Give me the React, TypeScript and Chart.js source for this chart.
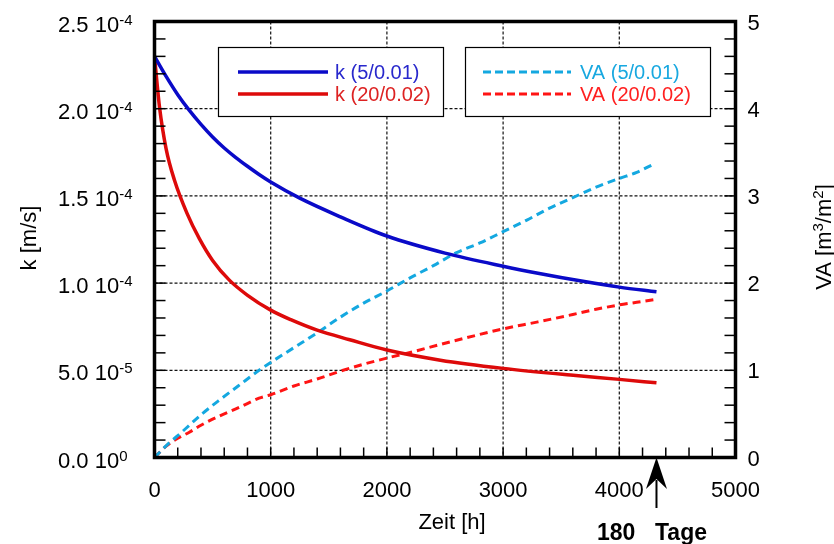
import React, { useEffect, useRef } from 'react';
import { Chart, registerables } from 'chart.js';
Chart.register(...registerables);

// ---- data ----
// k values in units of 1e-4 m/s, time in hours
const timeK5 = [0, 100, 200, 300, 400, 500, 600, 700, 800, 900, 1000, 1250, 1600, 2000, 2500, 3000, 3300, 3700, 4000, 4320];
const k5 = [2.3, 2.185, 2.08, 1.99, 1.91, 1.838, 1.775, 1.72, 1.67, 1.623, 1.58, 1.487, 1.38, 1.27, 1.172, 1.097, 1.057, 1.009, 0.977, 0.95];

const timeK20 = [0, 20, 43, 100, 172, 280, 386, 500, 644, 801, 1000, 1173, 1400, 1680, 2000, 2460, 3000, 3580, 4000, 4320];
const k20 = [2.3, 2.16, 2.01, 1.77, 1.59, 1.4, 1.255, 1.13, 1.017, 0.93, 0.845, 0.79, 0.73, 0.675, 0.616, 0.558, 0.511, 0.4725, 0.448, 0.428];

const timeVA5 = [0, 120, 200, 300, 400, 550, 720, 900, 1000, 1200, 1400, 1600, 1800, 2000, 2200, 2400, 2600, 2800, 3000, 3200, 3400, 3600, 3800, 4000, 4150, 4290];
const va5 = [0, 0.16, 0.25, 0.37, 0.49, 0.65, 0.82, 1.0, 1.09, 1.26, 1.43, 1.61, 1.77, 1.91, 2.06, 2.2, 2.35, 2.46, 2.59, 2.72, 2.86, 2.98, 3.1, 3.2, 3.27, 3.36];

const timeVA20 = [0, 30, 100, 200, 300, 400, 550, 730, 900, 1000, 1200, 1400, 1600, 1800, 2000, 2200, 2500, 2750, 3000, 3300, 3600, 3800, 4000, 4150, 4300];
const va20 = [0, 0.04, 0.13, 0.22, 0.29, 0.37, 0.47, 0.575, 0.68, 0.72, 0.82, 0.9, 0.99, 1.07, 1.14, 1.205, 1.31, 1.395, 1.475, 1.555, 1.64, 1.7, 1.75, 1.78, 1.81];

const seriesNames = ['k (5/0.01)', 'k (20/0.02)', 'VA (5/0.01)', 'VA (20/0.02)'];
const seriesColors = ['#0a0ac8', '#dd0a0a', '#14a8e0', '#ff1414'];
const legendTextColors = ['#2828cc', '#dd2222', '#18a8e0', '#ff2020'];

const xTickValues = [0, 1000, 2000, 3000, 4000, 5000];
const xTickLabels = ['0', '1000', '2000', '3000', '4000', '5000'];
const yTickValues = [0, 0.5, 1.0, 1.5, 2.0, 2.5];
const yTickMantissa = ['0.0', '5.0', '1.0', '1.5', '2.0', '2.5'];
const yTickExponent = ['0', '-5', '-4', '-4', '-4', '-4'];
const y2TickValues = [0, 1, 2, 3, 4, 5];
const y2TickLabels = ['0', '1', '2', '3', '4', '5'];

const xTitle = 'Zeit [h]';
const yTitle = 'k [m/s]';
const annotationNumber = '180';
const annotationUnit = 'Tage';
const annotationTime = 4320;

const FONT = '"Liberation Sans", Arial, Helvetica, sans-serif';

function pts(t: number[], v: number[]) {
  return t.map((x, i) => ({ x, y: v[i] }));
}

export default function App() {
  const ref = useRef<HTMLCanvasElement>(null);

  useEffect(() => {
    const canvas = ref.current;
    if (!canvas) return;

    const decor = {
      id: 'decor',
      beforeDatasetsDraw(chart: any) {
        const { ctx, chartArea: a, scales } = chart;
        const xs = scales.x;
        const ys = scales.y;
        ctx.save();
        ctx.strokeStyle = '#111';
        ctx.lineWidth = 1.2;
        ctx.setLineDash([3, 2]);
        for (const t of xTickValues) {
          if (t <= 0 || t >= 5000) continue;
          const px = xs.getPixelForValue(t);
          ctx.beginPath();
          ctx.moveTo(px, a.top);
          ctx.lineTo(px, a.bottom);
          ctx.stroke();
        }
        for (const v of yTickValues) {
          if (v <= 0 || v >= 2.5) continue;
          const py = ys.getPixelForValue(v);
          ctx.beginPath();
          ctx.moveTo(a.left, py);
          ctx.lineTo(a.right, py);
          ctx.stroke();
        }
        ctx.restore();
      },
      afterDatasetsDraw(chart: any) {
        const { ctx, chartArea: a, scales } = chart;
        const xs = scales.x;
        const ys = scales.y;
        const y2 = scales.y2;
        ctx.save();
        ctx.setLineDash([]);
        // minor ticks (inward)
        ctx.strokeStyle = '#000';
        ctx.lineWidth = 1.5;
        for (let t = 200; t < 5000; t += 200) {
          const px = xs.getPixelForValue(t);
          ctx.beginPath();
          ctx.moveTo(px, a.bottom);
          ctx.lineTo(px, a.bottom - 10);
          ctx.stroke();
        }
        for (let i = 1; i < 25; i++) {
          const py = ys.getPixelForValue(i * 0.1);
          ctx.beginPath();
          ctx.moveTo(a.left, py);
          ctx.lineTo(a.left + 11, py);
          ctx.stroke();
        }
        for (let i = 1; i < 25; i++) {
          const py = y2.getPixelForValue(i * 0.2);
          ctx.beginPath();
          ctx.moveTo(a.right, py);
          ctx.lineTo(a.right - 11, py);
          ctx.stroke();
        }
        // frame
        ctx.lineWidth = 3.5;
        ctx.strokeRect(a.left, a.top, a.right - a.left, a.bottom - a.top);

        // legend boxes
        const drawBox = (x: number, y: number, w: number, h: number) => {
          ctx.fillStyle = '#fff';
          ctx.fillRect(x, y, w, h);
          ctx.strokeStyle = '#000';
          ctx.lineWidth = 1.2;
          ctx.setLineDash([]);
          ctx.strokeRect(x, y, w, h);
        };
        drawBox(218.5, 47.5, 225, 69);
        drawBox(465.5, 47.5, 245, 69);
        const legendRows = [
          { x1: 238, x2: 328, y: 72, tx: 335, idx: 0, dash: [] as number[] },
          { x1: 238, x2: 328, y: 94, tx: 335, idx: 1, dash: [] as number[] },
          { x1: 483, x2: 571, y: 72, tx: 580, idx: 2, dash: [8, 4] },
          { x1: 483, x2: 571, y: 94, tx: 580, idx: 3, dash: [8, 4] },
        ];
        ctx.font = `20px ${FONT}`;
        ctx.textBaseline = 'middle';
        ctx.textAlign = 'left';
        for (const r of legendRows) {
          ctx.strokeStyle = seriesColors[r.idx];
          ctx.lineWidth = r.dash.length ? 3 : 3.5;
          ctx.setLineDash(r.dash);
          ctx.beginPath();
          ctx.moveTo(r.x1, r.y);
          ctx.lineTo(r.x2, r.y);
          ctx.stroke();
          ctx.fillStyle = legendTextColors[r.idx];
          ctx.fillText(seriesNames[r.idx], r.tx, r.y + 1);
        }
        ctx.setLineDash([]);

        // x tick labels
        ctx.fillStyle = '#000';
        ctx.font = `22px ${FONT}`;
        ctx.textAlign = 'center';
        ctx.textBaseline = 'alphabetic';
        xTickValues.forEach((t, i) => {
          ctx.fillText(xTickLabels[i], xs.getPixelForValue(t), 497);
        });
        // right tick labels
        ctx.textAlign = 'left';
        ctx.textBaseline = 'middle';
        y2TickValues.forEach((v, i) => {
          ctx.fillText(y2TickLabels[i], a.right + 12, y2.getPixelForValue(v) + 2);
        });
        // left tick labels with superscript exponent
        ctx.textBaseline = 'alphabetic';
        yTickValues.forEach((v, i) => {
          const py = ys.getPixelForValue(v);
          ctx.font = `22px ${FONT}`;
          const main = `${yTickMantissa[i]} 10`;
          ctx.fillText(main, 58, py + 10);
          const w = ctx.measureText(main).width;
          ctx.font = `15px ${FONT}`;
          ctx.fillText(yTickExponent[i], 58 + w, py + 3);
        });

        // axis titles
        ctx.font = `22px ${FONT}`;
        ctx.textAlign = 'center';
        ctx.fillText(xTitle, 452, 529);

        ctx.save();
        ctx.translate(36, 238);
        ctx.rotate(-Math.PI / 2);
        ctx.textAlign = 'center';
        ctx.fillText(yTitle, 0, 0);
        ctx.restore();

        // right title with superscripts
        ctx.save();
        ctx.translate(831, 237);
        ctx.rotate(-Math.PI / 2);
        const parts: [string, boolean][] = [['VA [m', false], ['3', true], ['/m', false], ['2', true], [']', false]];
        let total = 0;
        const widths = parts.map(([s, sup]) => {
          ctx.font = sup ? `15px ${FONT}` : `22px ${FONT}`;
          const w = ctx.measureText(s).width;
          total += w;
          return w;
        });
        let cx = -total / 2;
        ctx.textAlign = 'left';
        parts.forEach(([s, sup], i) => {
          ctx.font = sup ? `15px ${FONT}` : `22px ${FONT}`;
          ctx.fillText(s, cx, sup ? -8 : 0);
          cx += widths[i];
        });
        ctx.restore();

        // annotation arrow and text
        const ax = xs.getPixelForValue(annotationTime);
        ctx.strokeStyle = '#000';
        ctx.fillStyle = '#000';
        ctx.lineWidth = 2;
        ctx.beginPath();
        ctx.moveTo(ax, 508);
        ctx.lineTo(ax, 480);
        ctx.stroke();
        ctx.beginPath();
        ctx.moveTo(ax, a.bottom);
        ctx.lineTo(ax - 10.5, 489);
        ctx.lineTo(ax, 479);
        ctx.lineTo(ax + 10.5, 489);
        ctx.closePath();
        ctx.fill();
        ctx.font = `bold 23px ${FONT}`;
        ctx.textAlign = 'left';
        ctx.textBaseline = 'alphabetic';
        ctx.fillText(annotationNumber, 597, 540);
        ctx.fillText(annotationUnit, 655, 540);
        ctx.restore();
      },
    };

    const chart = new Chart(canvas, {
      type: 'line',
      data: {
        datasets: [
          {
            label: seriesNames[0],
            data: pts(timeK5, k5),
            yAxisID: 'y',
            borderColor: seriesColors[0],
            borderWidth: 3.5,
            cubicInterpolationMode: 'monotone',
          },
          {
            label: seriesNames[1],
            data: pts(timeK20, k20),
            yAxisID: 'y',
            borderColor: seriesColors[1],
            borderWidth: 3.5,
            cubicInterpolationMode: 'monotone',
          },
          {
            label: seriesNames[2],
            data: pts(timeVA5, va5),
            yAxisID: 'y2',
            borderColor: seriesColors[2],
            borderWidth: 3,
            borderDash: [8, 5],
            cubicInterpolationMode: 'monotone',
          },
          {
            label: seriesNames[3],
            data: pts(timeVA20, va20),
            yAxisID: 'y2',
            borderColor: seriesColors[3],
            borderWidth: 3,
            borderDash: [8, 5],
            cubicInterpolationMode: 'monotone',
          },
        ],
      },
      options: {
        responsive: false,
        animation: false,
        devicePixelRatio: 1,
        layout: { padding: { top: 21.5, left: 0, right: 0, bottom: 0 } },
        elements: { point: { radius: 0 } },
        plugins: { legend: { display: false }, tooltip: { enabled: false } },
        scales: {
          x: {
            type: 'linear',
            position: 'bottom',
            min: 0,
            max: 5000,
            grid: { display: false },
            border: { display: false },
            ticks: { display: false },
            afterFit: (s: any) => { s.height = 86.5; },
          },
          y: {
            type: 'linear',
            position: 'left',
            min: 0,
            max: 2.5,
            grid: { display: false },
            border: { display: false },
            ticks: { display: false },
            afterFit: (s: any) => { s.width = 154.5; },
          },
          y2: {
            type: 'linear',
            position: 'right',
            min: 0,
            max: 5,
            grid: { display: false },
            border: { display: false },
            ticks: { display: false },
            afterFit: (s: any) => { s.width = 98.5; },
          },
        },
      } as any,
      plugins: [decor],
    });
    return () => chart.destroy();
  }, []);

  return (
    <div style={{ position: 'absolute', left: 0, top: 0, width: 834, height: 544, background: '#fff' }}>
      <canvas ref={ref} width={834} height={544} style={{ display: 'block', width: 834, height: 544 }} />
    </div>
  );
}
